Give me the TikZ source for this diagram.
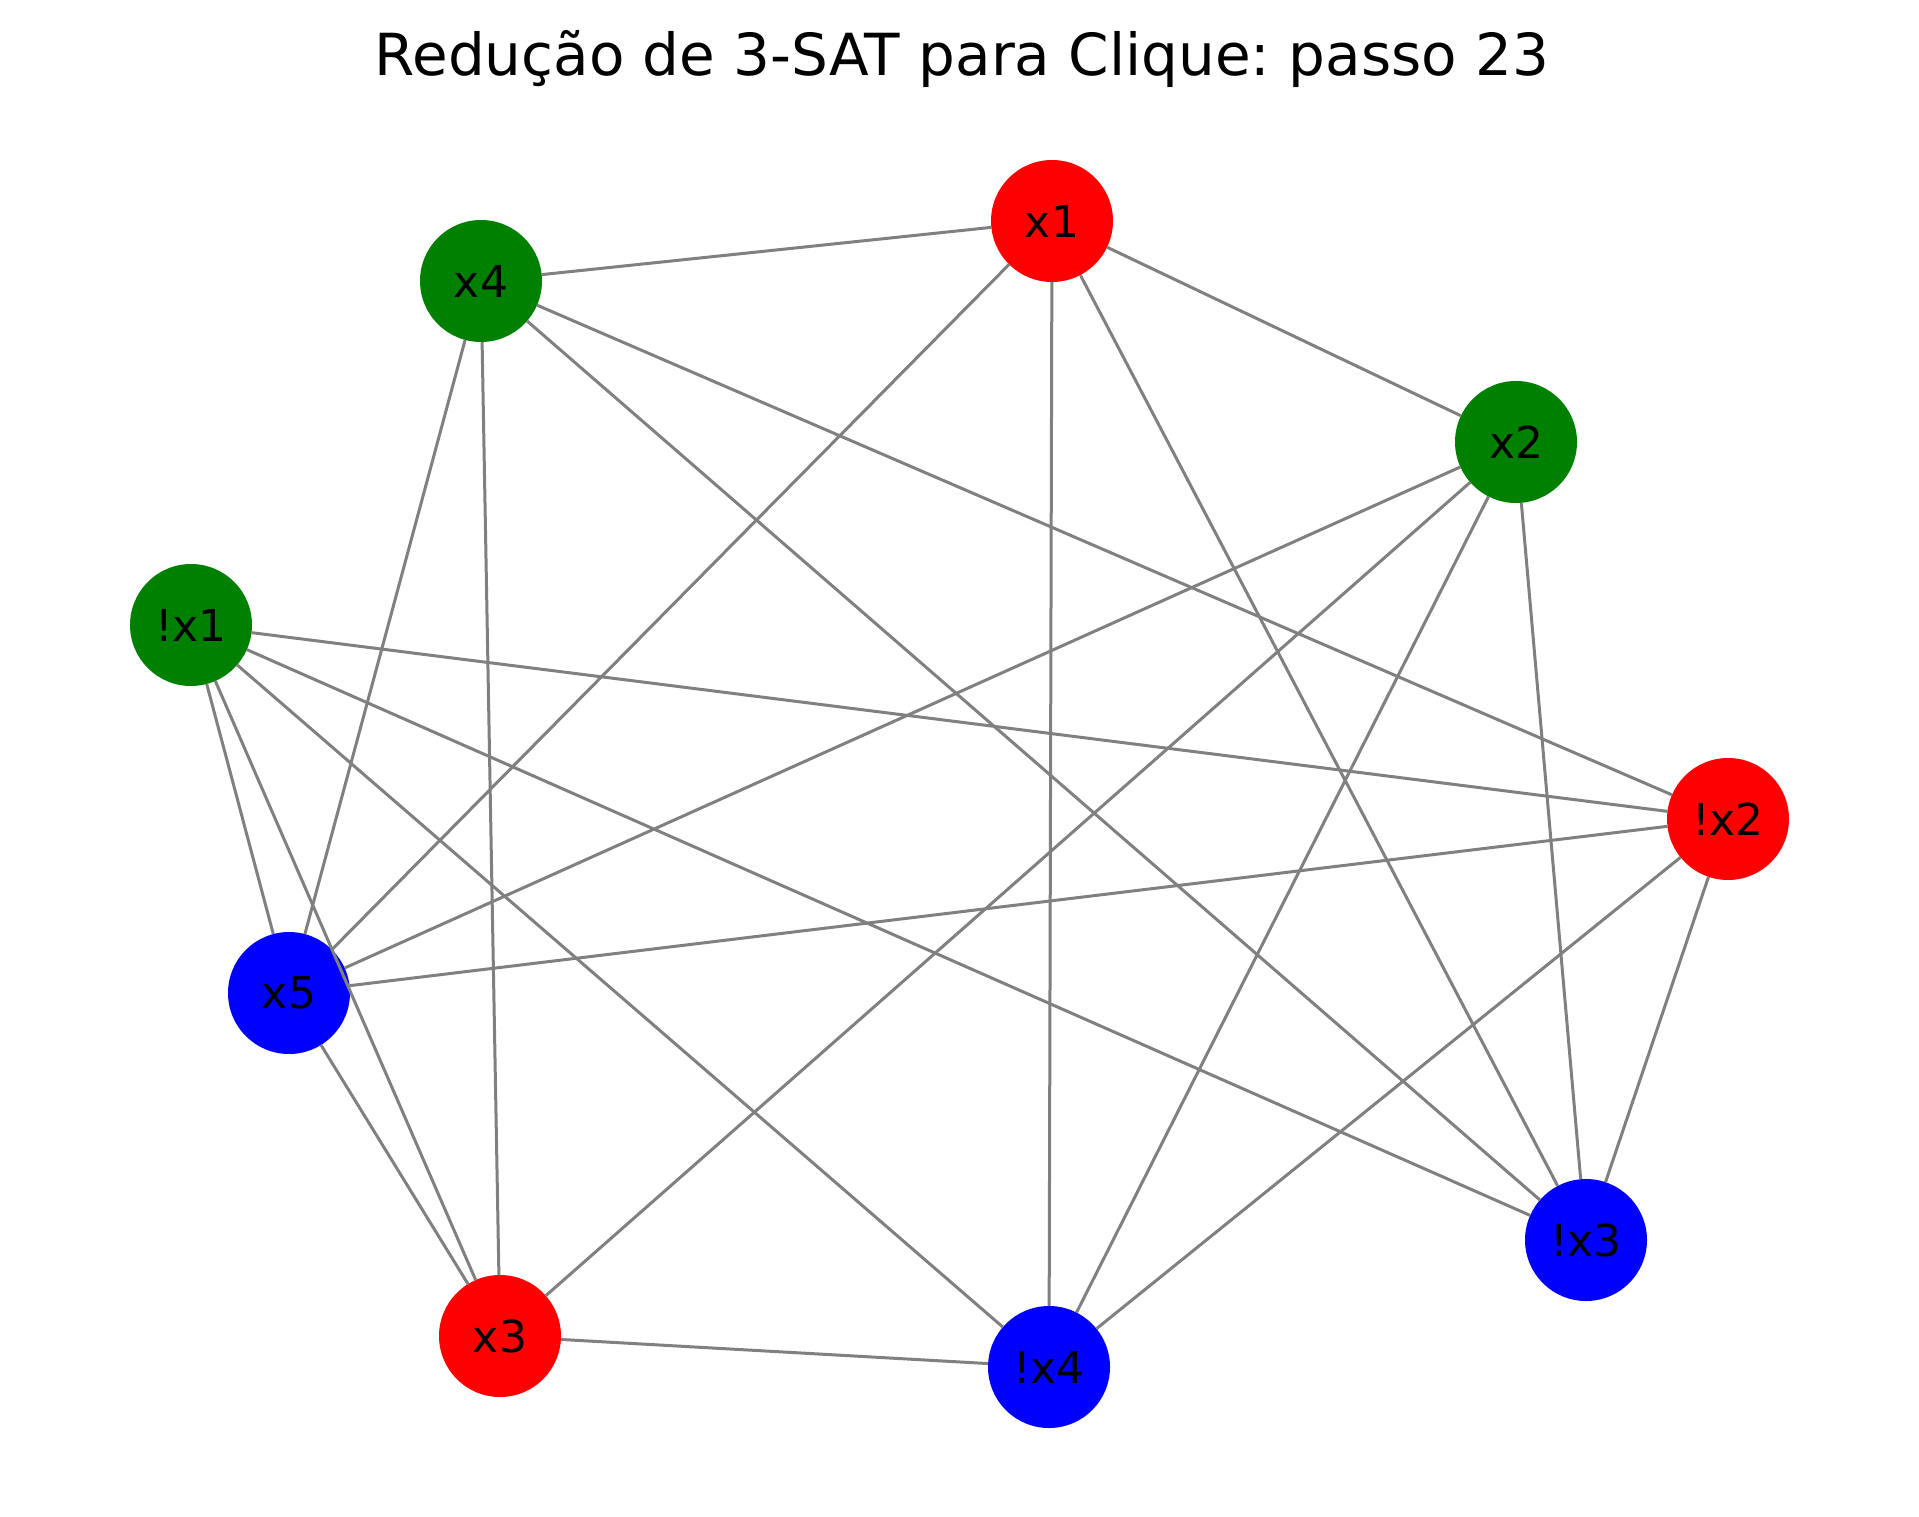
\documentclass[tikz,border=0pt]{standalone}
\usepackage{fontspec}
\setmainfont{DejaVu Sans}
\frenchspacing
\begin{document}
\begin{tikzpicture}[x=1pt,y=-1pt,
  vtx/.style={circle,minimum size=122pt,inner sep=0pt,outer sep=0pt,font=\fontsize{44}{50}\selectfont},
  vred/.style={vtx,fill={rgb,255:red,255;green,0;blue,0}},
  vgreen/.style={vtx,fill={rgb,255:red,0;green,128;blue,0}},
  vblue/.style={vtx,fill={rgb,255:red,0;green,0;blue,255}},
  edge/.style={draw={rgb,255:red,128;green,128;blue,128},line width=3pt}]
\useasboundingbox[fill=white] (0,0) rectangle (1919,1517);
\node[anchor=base,font=\fontsize{58}{68}\selectfont] (title) at (962,76) {Redução de 3-SAT para Clique: passo 23};
\node[vred]   (x1)  at (1052,221) {x1};
\node[vgreen] (x4)  at (481,281)  {x4};
\node[vgreen] (x2)  at (1516,442) {x2};
\node[vgreen] (nx1) at (191,625)  {!x1};
\node[vred]   (nx2) at (1728,819) {!x2};
\node[vblue]  (x5)  at (289,993)  {x5};
\node[vblue]  (nx3) at (1586,1240) {!x3};
\node[vred]   (x3)  at (500,1336) {x3};
\node[vblue]  (nx4) at (1049,1367) {!x4};
\foreach \a/\b in {x4/x1, x1/x2, x1/x5, x1/nx4, x1/nx3, x4/x5, x4/x3, x4/nx3, x4/nx2,
  x2/x5, x2/x3, x2/nx4, x2/nx3, nx1/nx2, nx1/x5, nx1/x3, nx1/nx4, nx1/nx3,
  nx2/x5, nx2/nx4, nx2/nx3, x5/x3, x3/nx4}
  \draw[edge] (\a) -- (\b);
\end{tikzpicture}
\end{document}
